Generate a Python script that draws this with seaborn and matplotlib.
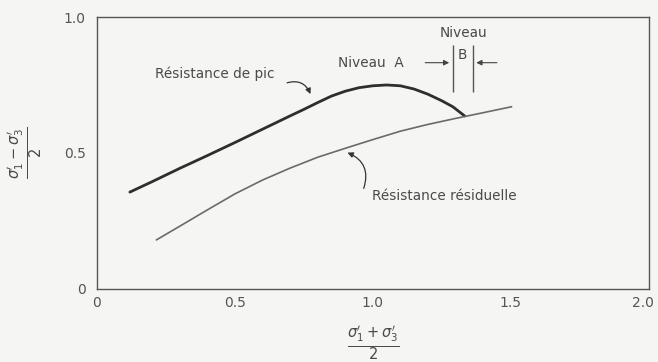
import matplotlib
matplotlib.use("Agg")
import matplotlib.pyplot as plt
import matplotlib.transforms as mtransforms
import seaborn as sns
import pandas as pd

# Data
peak_x = [0.12, 0.20, 0.30, 0.40, 0.50, 0.60, 0.70, 0.75, 0.80, 0.85, 0.90, 0.95,
          1.00, 1.05, 1.10, 1.15, 1.20, 1.25, 1.29, 1.333]
peak_y = [0.356, 0.394, 0.443, 0.490, 0.538, 0.587, 0.636, 0.660, 0.685, 0.709, 0.727, 0.740,
          0.747, 0.750, 0.747, 0.735, 0.716, 0.692, 0.670, 0.636]
resid_x = [0.216, 0.30, 0.40, 0.50, 0.60, 0.70, 0.80, 0.90, 1.00, 1.10, 1.20, 1.30, 1.40, 1.503]
resid_y = [0.180, 0.230, 0.290, 0.349, 0.400, 0.444, 0.484, 0.517, 0.549, 0.580, 0.605, 0.627, 0.648, 0.670]

x_ticks = [0, 0.5, 1.0, 1.5, 2.0]
x_tick_labels = ["0", "0.5", "1.0", "1.5", "2.0"]
y_ticks = [0, 0.5, 1.0]
y_tick_labels = ["0", "0.5", "1.0"]

sns.set_style("white")
plt.rcParams['font.family'] = ['DejaVu Sans']
plt.rcParams['mathtext.fontset'] = 'dejavusans'

bg = "#f5f5f3"
ink = "#4a4a4a"

fig = plt.figure(figsize=(6.58, 3.62), dpi=100, facecolor=bg)
ax = fig.add_axes([0.147, 0.202, 0.839, 0.751], facecolor=bg)

df_peak = pd.DataFrame({"x": peak_x, "y": peak_y})
df_res = pd.DataFrame({"x": resid_x, "y": resid_y})
sns.lineplot(data=df_peak, x="x", y="y", ax=ax, color="#2e2e2e", lw=2.0, sort=False)
sns.lineplot(data=df_res, x="x", y="y", ax=ax, color="#6a6a6a", lw=1.2, sort=False)

ax.set_xlim(0, 2.0)
ax.set_ylim(0, 1.0)
ax.set_xticks(x_ticks)
ax.set_xticklabels(x_tick_labels)
ax.set_yticks(y_ticks)
ax.set_yticklabels(y_tick_labels)
ax.tick_params(axis="x", direction="in", length=9, width=1, color=ink,
               labelsize=10, labelcolor="#555555", pad=5)
ax.tick_params(axis="y", length=0, labelsize=10, labelcolor="#555555", pad=8)
for s in ax.spines.values():
    s.set_color("#555555")
    s.set_linewidth(1.0)

# keep the last x tick label inside the figure
last = ax.get_xticklabels()[-1]
last.set_transform(last.get_transform() + mtransforms.ScaledTranslation(-6 / 100, 0, fig.dpi_scale_trans))

ax.set_xlabel(r"$\frac{\sigma_1' + \sigma_3'}{2}$", fontsize=15, color=ink)
ax.xaxis.set_label_coords(0.5, -0.13)
ax.set_ylabel(r"$\frac{\sigma_1' - \sigma_3'}{2}$", fontsize=15, color=ink)
ax.yaxis.set_label_coords(-0.095, 0.5)

# annotations
fs = 9.8
ax.text(0.428, 0.79, "Résistance de pic", fontsize=fs, color=ink, ha="center", va="center")
ax.annotate("", xy=(0.778, 0.707), xytext=(0.68, 0.755),
            arrowprops=dict(arrowstyle="-|>", color="#333333", lw=0.9,
                            connectionstyle="arc3,rad=-0.5", mutation_scale=8))
ax.text(1.26, 0.34, "Résistance résiduelle", fontsize=fs, color=ink, ha="center", va="center")
ax.annotate("", xy=(0.899, 0.505), xytext=(0.964, 0.36),
            arrowprops=dict(arrowstyle="-|>", color="#333333", lw=0.9,
                            connectionstyle="arc3,rad=0.5", mutation_scale=8))
ax.text(0.993, 0.83, "Niveau  A", fontsize=fs, color=ink, ha="center", va="center")
ax.text(1.33, 0.94, "Niveau", fontsize=fs, color=ink, ha="center", va="center")
ax.text(1.326, 0.86, "B", fontsize=fs, color=ink, ha="center", va="center")
ax.vlines([1.29, 1.362], 0.724, 0.897, color="#555555", lw=1.0)
ax.annotate("", xy=(1.287, 0.832), xytext=(1.18, 0.832),
            arrowprops=dict(arrowstyle="-|>", color="#444444", lw=0.8, mutation_scale=8))
ax.annotate("", xy=(1.365, 0.832), xytext=(1.46, 0.832),
            arrowprops=dict(arrowstyle="-|>", color="#444444", lw=0.8, mutation_scale=8))

fig.savefig("out.png", dpi=100, facecolor=bg)
